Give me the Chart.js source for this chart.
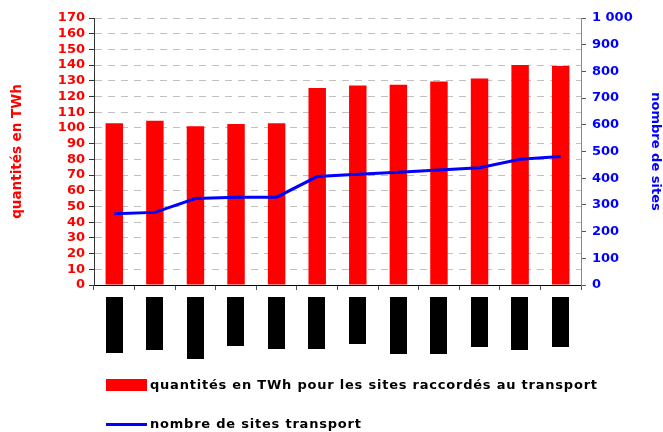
<!DOCTYPE html>
<html><head><meta charset="utf-8">
<script src="https://cdn.jsdelivr.net/npm/chart.js@4/dist/chart.umd.min.js"></script>
<style>
html,body{margin:0;padding:0;background:#fff;}
#wrap{position:relative;width:663px;height:432px;overflow:hidden;}
canvas{position:absolute;left:0;top:0;}
.leg{position:absolute;left:106px;height:16px;display:flex;align-items:center;font:bold 13px "DejaVu Sans",sans-serif;color:#000;white-space:nowrap;line-height:16px;}
.leg .t{letter-spacing:0.78px;}
.sw{display:inline-block;width:41px;margin-right:3px;}
</style></head>
<body>
<div id="wrap">
<canvas id="c" width="663" height="432"></canvas>
<div class="leg" style="top:377px"><span class="sw" style="height:12px;background:#ff0000"></span><span class="t" id="l1"></span></div>
<div class="leg" style="top:416px"><span class="sw" style="height:3px;background:#0000ff"></span><span class="t" id="l2"></span></div>
</div>
<script>
// ---- data ----
const categories = ['c1','c2','c3','c4','c5','c6','c7','c8','c9','c10','c11','c12'];
const quantitesTWh = [103, 104.5, 101, 102.5, 103, 125.5, 127, 127.5, 129.5, 131.5, 140, 139.5];
const nombreSites = [267, 272, 324, 329, 329, 406, 415, 422, 431, 439, 471, 481];
const labelBoxLengths = [56, 53, 62, 49, 52, 52, 47, 57, 57, 50, 53, 50]; // redacted (black) category labels
const seriesNames = ['quantités en TWh pour les sites raccordés au transport', 'nombre de sites transport'];
const axisTitles = ['quantités en TWh', 'nombre de sites'];

document.getElementById('l1').textContent = seriesNames[0];
document.getElementById('l2').textContent = seriesNames[1];

const FONT = 'DejaVu Sans';

const labelBoxes = {
  id: 'labelBoxes',
  afterDraw(chart) {
    const {ctx, chartArea, scales: {x}} = chart;
    const bars = chart.getDatasetMeta(1).data;
    ctx.save();
    ctx.fillStyle = '#000';
    labelBoxLengths.forEach((len, i) => {
      const cx = x.getPixelForValue(i);
      const w = bars[i].width;
      ctx.fillRect(Math.round(cx - w / 2), chartArea.bottom + 12, Math.round(w), len);
    });
    ctx.restore();
  }
};

new Chart(document.getElementById('c'), {
  data: {
    labels: categories,
    datasets: [
      {
        type: 'line', label: seriesNames[1], data: nombreSites, yAxisID: 'y2', order: 0,
        borderColor: '#0000ff', borderWidth: 3, pointRadius: 0, tension: 0, fill: false
      },
      {
        type: 'bar', label: seriesNames[0], data: quantitesTWh, yAxisID: 'y', order: 1,
        backgroundColor: '#ff0000', borderWidth: 0, barPercentage: 0.43, categoryPercentage: 1
      }
    ]
  },
  options: {
    responsive: false,
    animation: false,
    layout: {padding: {top: 18, bottom: 142, left: 0, right: 0}},
    plugins: {legend: {display: false}, tooltip: {enabled: false}},
    scales: {
      x: {
        ticks: {display: false},
        grid: {drawOnChartArea: false, drawTicks: true, tickLength: 5, tickColor: '#555', offset: true},
        border: {color: '#000', width: 1}
      },
      y: {
        position: 'left', min: 0, max: 170,
        afterFit(s) { s.width = 94; },
        ticks: {stepSize: 10, autoSkip: false, color: '#ff0000', padding: 4,
          font: {family: FONT, weight: 'bold', size: 13, lineHeight: 1.2}},
        grid: {color: '#c0c0c0', lineWidth: 1, tickLength: 5, tickColor: '#333'},
        border: {color: '#333', width: 1, dash: [7, 6]},
        title: {display: true, text: axisTitles[0], color: '#ff0000', padding: {top: 9, bottom: 4},
          font: {family: FONT, weight: 'bold', size: 13.5, lineHeight: 1.2}}
      },
      y2: {
        position: 'right', min: 0, max: 1000,
        afterFit(s) { s.width = 82; },
        ticks: {stepSize: 100, autoSkip: false, color: '#0000ff', padding: 6,
          font: {family: FONT, weight: 'bold', size: 13, lineHeight: 1.2},
          callback: v => String(v).replace(/\B(?=(\d{3})+(?!\d))/g, ' ')},
        grid: {drawOnChartArea: false, tickLength: 5, tickColor: '#555'},
        border: {color: '#888', width: 1},
        title: {display: true, text: axisTitles[1], color: '#0000ff', padding: {top: 0, bottom: 4},
          font: {family: FONT, weight: 'bold', size: 13, lineHeight: 1.2}}
      }
    }
  },
  plugins: [labelBoxes]
});
</script>
</body></html>
